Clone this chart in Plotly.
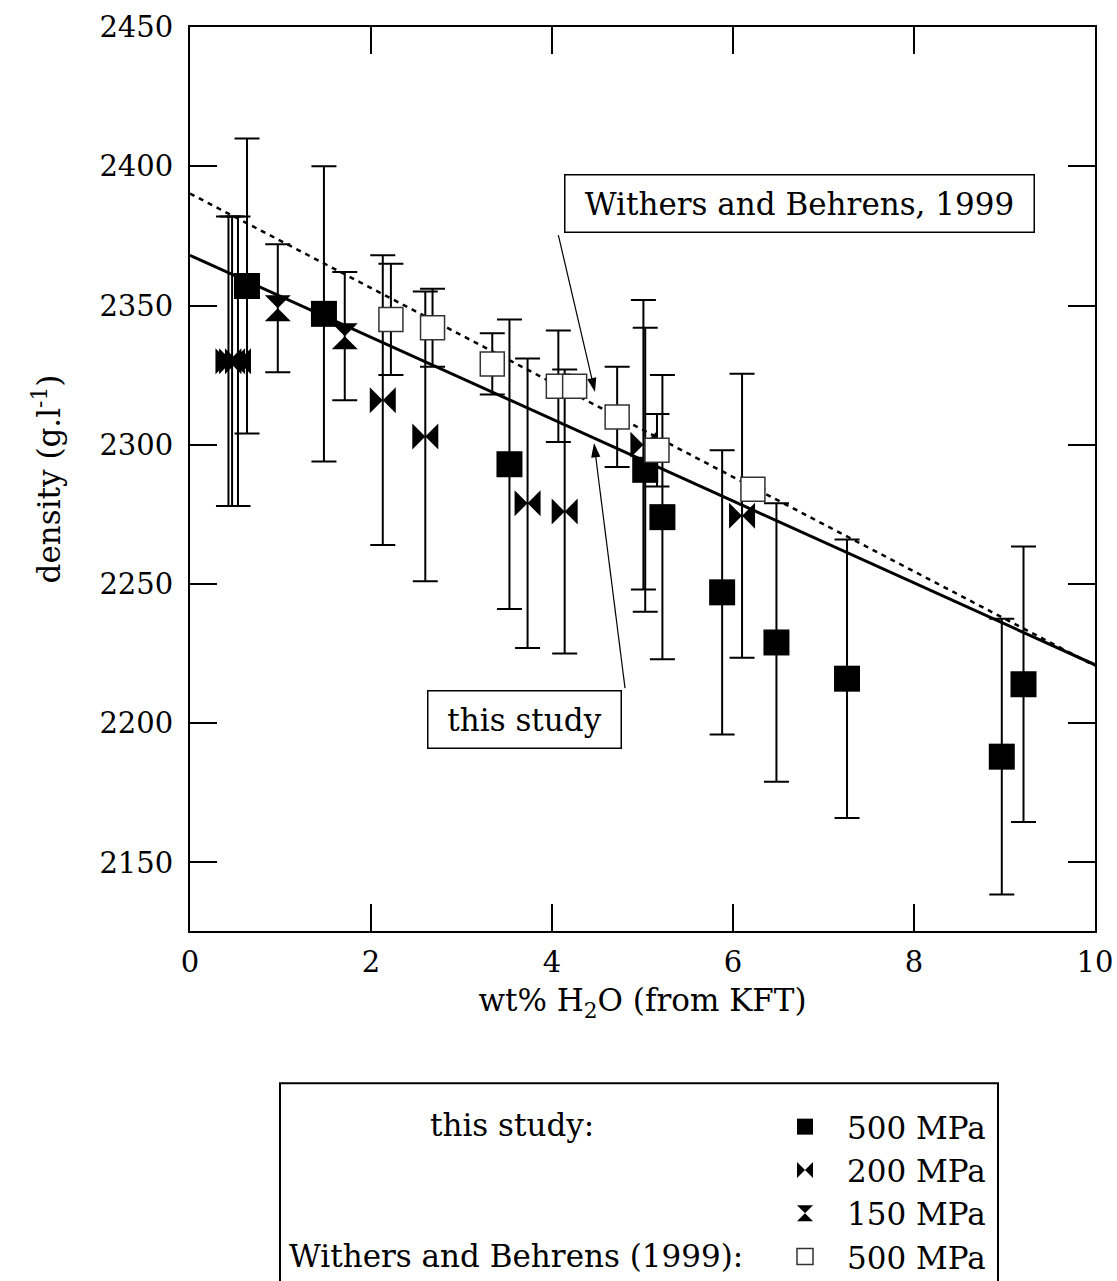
import plotly.graph_objects as go

# ---- data ----
# this study, 500 MPa (filled squares)
x_500 = [0.63, 1.48, 3.53, 5.03, 5.22, 5.88, 6.48, 7.26, 8.97, 9.21]
y_500 = [2357, 2347, 2293, 2291, 2274, 2247, 2229, 2216, 2188, 2214]
e_500 = [53, 53, 52, 51, 51, 51, 50, 50, 49.5, 49.5]

# this study, 200 MPa (bowties)
x_200 = [0.425, 0.465, 0.53, 2.13, 2.60, 3.73, 4.14, 5.01, 6.10]
y_200 = [2330, 2330, 2330, 2316, 2303, 2279, 2276, 2300, 2274.5]
e_200 = [52, 52, 52, 52, 52, 52, 51, 52, 51]

# this study, 150 MPa (hourglasses)
x_150 = [0.97, 1.71]
y_150 = [2349, 2339]
e_150 = [23, 23]

# Withers and Behrens (1999), 500 MPa (open squares)
x_wb = [2.22, 2.68, 3.34, 4.07, 4.25, 4.72, 5.16, 6.22]
y_wb = [2345, 2342, 2329, 2321, 2321, 2310, 2298, 2284]
e_wb = [20, 14, 11, 20, 0, 18, 13, 0]

# linear fits
fit_x = [0, 10]
fit_this_study = [2368, 2221]
fit_withers = [2390.2, 2220.6]

# callout arrows (tail -> tip)
arrow_wb_x = [4.07, 4.475]
arrow_wb_y = [2375.3, 2318.9]
arrow_ts_x = [4.807, 4.464]
arrow_ts_y = [2212.6, 2300.6]

x_ticks = [0, 2, 4, 6, 8, 10]
y_ticks = [2150, 2200, 2250, 2300, 2350, 2400, 2450]

FONT = "DejaVu Serif"
FS = 31

fig = go.Figure()

fig.add_trace(go.Scatter(x=fit_x, y=fit_withers, mode="lines",
                         line=dict(color="black", width=2.5, dash="5px,5px"),
                         showlegend=False, hoverinfo="skip"))
fig.add_trace(go.Scatter(x=fit_x, y=fit_this_study, mode="lines",
                         line=dict(color="black", width=3),
                         showlegend=False, hoverinfo="skip"))

err_style = dict(type="data", visible=True, color="black", thickness=2, width=12.5)

fig.add_trace(go.Scatter(x=x_500, y=y_500, mode="markers", name="500 MPa",
                         legendgroup="a",
                         error_y=dict(array=e_500, **err_style),
                         marker=dict(symbol="square", size=26, color="black",
                                     line=dict(width=0))))
fig.add_trace(go.Scatter(x=x_200, y=y_200, mode="markers", name="200 MPa",
                         legendgroup="b",
                         error_y=dict(array=e_200, **err_style),
                         marker=dict(symbol="bowtie", size=26, color="black",
                                     line=dict(width=0))))
fig.add_trace(go.Scatter(x=x_150, y=y_150, mode="markers", name="150 MPa",
                         legendgroup="c",
                         error_y=dict(array=e_150, **err_style),
                         marker=dict(symbol="hourglass", size=26, color="black",
                                     line=dict(width=0))))
fig.add_trace(go.Scatter(x=x_wb, y=y_wb, mode="markers", name="500 MPa ",
                         legendgroup="d",
                         error_y=dict(array=e_wb, **err_style),
                         marker=dict(symbol="square", size=24, color="white",
                                     line=dict(width=1.5, color="#333333"))))

for ax_, ay_ in ((arrow_wb_x, arrow_wb_y), (arrow_ts_x, arrow_ts_y)):
    fig.add_trace(go.Scatter(x=ax_, y=ay_, mode="lines+markers",
                             line=dict(color="black", width=1.2),
                             marker=dict(symbol="arrow", size=15, color="black",
                                         angleref="previous", line=dict(width=0)),
                             showlegend=False, hoverinfo="skip"))

annotations = [
    dict(x=6.73, y=2386.8, xref="x", yref="y", text="Withers and Behrens, 1999",
         showarrow=False, font=dict(family=FONT, size=FS, color="black"),
         bgcolor="white", bordercolor="black", borderwidth=1.5, borderpad=6,
         width=456, height=44),
    dict(x=3.70, y=2201.2, xref="x", yref="y", text="this study",
         showarrow=False, font=dict(family=FONT, size=FS, color="black"),
         bgcolor="white", bordercolor="black", borderwidth=1.5, borderpad=6,
         width=180, height=44),
    # legend labels
    dict(x=(512 - 190) / 905, y=(930.7 - 1125) / 903.7, xref="paper", yref="paper",
         text="this study:", showarrow=False, xanchor="center", yanchor="middle",
         font=dict(family=FONT, size=FS, color="black")),
    dict(x=(745 - 190) / 905, y=(930.7 - 1256) / 903.7, xref="paper", yref="paper",
         text="Withers and Behrens (1999):", showarrow=False, xanchor="right", yanchor="middle",
         font=dict(family=FONT, size=FS, color="black")),
]

shapes = [
    dict(type="rect", xref="paper", yref="paper",
         x0=(280 - 190) / 905, x1=(998 - 190) / 905,
         y0=(930.7 - 1083) / 903.7, y1=-0.6,
         line=dict(color="black", width=2), fillcolor="rgba(0,0,0,0)", layer="below"),
]

axis_common = dict(showline=True, linecolor="black", linewidth=2, mirror="ticks",
                   ticks="inside", ticklen=27, tickwidth=2, tickcolor="black",
                   showgrid=False, zeroline=False,
                   tickfont=dict(family=FONT, size=29, color="black"))

fig.update_layout(
    width=1117, height=1281,
    margin=dict(l=190, r=22, t=27, b=350, autoexpand=False),
    plot_bgcolor="white", paper_bgcolor="white",
    xaxis=dict(range=[0, 10], tickvals=x_ticks, ticklabelstandoff=4,
               title=dict(text="wt% H<sub>2</sub>O (from KFT)", standoff=12,
                          font=dict(family=FONT, size=FS, color="black")),
               **axis_common),
    yaxis=dict(range=[2125.4, 2450], tickvals=y_ticks, ticklabelstandoff=9,
               title=dict(text="density (g.l<sup>-1</sup>)", standoff=30,
                          font=dict(family=FONT, size=FS, color="black")),
               **axis_common),
    showlegend=True,
    legend=dict(xref="container", yref="container",
                x=763 / 1117, y=1 - 1100 / 1281, xanchor="left", yanchor="top",
                bgcolor="rgba(0,0,0,0)", borderwidth=0, traceorder="grouped",
                tracegroupgap=0, itemwidth=74,
                font=dict(family=FONT, size=FS, color="black")),
    annotations=annotations,
    shapes=shapes,
)

fig.write_html("out.html")
